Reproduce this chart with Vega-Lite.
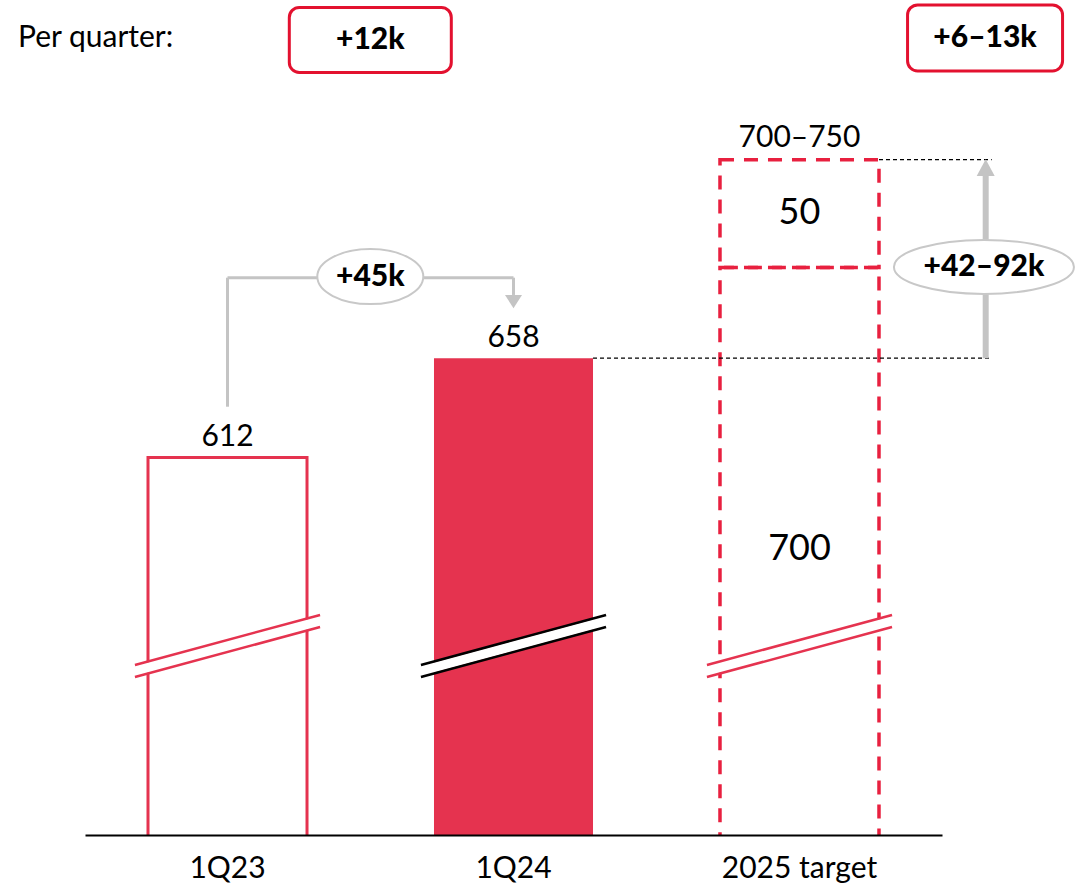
{
  "$schema": "https://vega.github.io/schema/vega-lite/v6.json",
  "width": 857,
  "height": 835,
  "autosize": {"type": "none"},
  "padding": {"left": 85, "right": 133, "top": 0, "bottom": 51},
  "background": "white",
  "config": {"view": {"stroke": null}, "font": "Lato", "text": {"font": "Lato", "color": "#000"}},
  "datasets": {
    "actuals": [{"period": "1Q23", "value": 612}, {"period": "1Q24", "value": 658}],
    "target": [
      {"period": "2025 target", "segment": "base", "from": 0, "to": 700, "label": "700"},
      {"period": "2025 target", "segment": "stretch", "from": 700, "to": 750, "label": "50"}
    ],
    "periods": [{"period": "1Q23"}, {"period": "1Q24"}, {"period": "2025 target"}],
    "refs": [{"from": "1Q24", "value": 658}, {"from": "2025 target", "value": 750}]
  },
  "layer": [
    {
      "data": {"name": "actuals"},
      "mark": {"type": "bar", "clip": true, "stroke": "#e5334f"},
      "encoding": {
        "x": {
          "field": "period", "type": "nominal",
          "scale": {"type": "band", "domain": ["1Q23", "1Q24", "2025 target"], "paddingInner": 0.444, "paddingOuter": 0.2203},
          "axis": {"title": null, "domainColor": "#000", "domainWidth": 2, "ticks": false, "labelFontSize": 30, "labelFont": "Lato", "labelColor": "#000", "labelPadding": 18, "labelAngle": 0, "zindex": 1, "grid": false}
        },
        "y": {"field": "value", "type": "quantitative", "scale": {"domain": [437, 824], "nice": false, "zero": false}, "axis": null},
        "fill": {"condition": {"test": "datum.period === '1Q24'", "value": "#e5334f"}, "value": "white"},
        "strokeWidth": {"condition": {"test": "datum.period === '1Q24'", "value": 0}, "value": 3}
      }
    },
    {
      "data": {"name": "target"},
      "mark": {"type": "bar", "clip": true, "fillOpacity": 0, "stroke": "#e8203f", "strokeWidth": 3.5, "strokeDash": [14, 10]},
      "encoding": {
        "x": {"field": "period", "type": "nominal"},
        "y": {"field": "to", "type": "quantitative"},
        "y2": {"field": "from"}
      }
    },
    {
      "data": {"name": "periods"},
      "mark": {"type": "rule", "color": "white", "strokeWidth": 10, "strokeCap": "butt"},
      "encoding": {
        "x": {"field": "period", "type": "nominal", "bandPosition": -0.082},
        "x2": {"field": "period", "bandPosition": 1.082},
        "y": {"datum": 513.0, "type": "quantitative"},
        "y2": {"datum": 536.2}
      }
    },
    {
      "data": {"name": "periods"},
      "mark": {"type": "rule", "strokeWidth": 2.5},
      "encoding": {
        "x": {"field": "period", "type": "nominal", "bandPosition": -0.082},
        "x2": {"field": "period", "bandPosition": 1.082},
        "y": {"datum": 515.8, "type": "quantitative"},
        "y2": {"datum": 539.0},
        "color": {"condition": {"test": "datum.period === '1Q24'", "value": "#000"}, "value": "#e5334f"}
      }
    },
    {
      "data": {"name": "periods"},
      "mark": {"type": "rule", "strokeWidth": 2.5},
      "encoding": {
        "x": {"field": "period", "type": "nominal", "bandPosition": -0.082},
        "x2": {"field": "period", "bandPosition": 1.082},
        "y": {"datum": 510.2, "type": "quantitative"},
        "y2": {"datum": 533.4},
        "color": {"condition": {"test": "datum.period === '1Q24'", "value": "#000"}, "value": "#e5334f"}
      }
    },
    {
      "data": {"name": "refs"},
      "mark": {"type": "rule", "color": "#000", "strokeWidth": 1.2, "strokeDash": [4, 3]},
      "encoding": {
        "x": {"field": "from", "type": "nominal", "bandPosition": 1},
        "x2": {"datum": "2025 target", "bandPosition": 1.709},
        "y": {"field": "value", "type": "quantitative"}
      }
    },
    {
      "data": {"name": "actuals"},
      "mark": {"type": "text", "fontSize": 30, "baseline": "alphabetic", "dy": -11},
      "encoding": {
        "x": {"field": "period", "type": "nominal"},
        "y": {"field": "value", "type": "quantitative"},
        "text": {"field": "value"}
      }
    },
    {
      "data": {"values": [{"period": "2025 target", "high": 750, "label": "700–750"}]},
      "mark": {"type": "text", "fontSize": 30, "baseline": "alphabetic", "dy": -13},
      "encoding": {
        "x": {"field": "period", "type": "nominal"},
        "y": {"field": "high", "type": "quantitative"},
        "text": {"field": "label"}
      }
    },
    {
      "data": {"name": "target"},
      "transform": [{"filter": "datum.segment === 'stretch'"}],
      "mark": {"type": "text", "fontSize": 36, "baseline": "middle"},
      "encoding": {
        "x": {"field": "period", "type": "nominal"},
        "y": {"datum": 725.5, "type": "quantitative"},
        "text": {"field": "label"}
      }
    },
    {
      "data": {"name": "target"},
      "transform": [{"filter": "datum.segment === 'base'"}],
      "mark": {"type": "text", "fontSize": 36, "baseline": "middle"},
      "encoding": {
        "x": {"field": "period", "type": "nominal"},
        "y": {"datum": 569.5, "type": "quantitative"},
        "text": {"field": "label"}
      }
    },
    {
      "data": {"values": [{"label": "+45k"}]},
      "mark": {"type": "rule", "color": "#c4c4c4", "strokeWidth": 3},
      "encoding": {
        "x": {"datum": "1Q23", "type": "nominal"},
        "y": {"datum": 635.5, "type": "quantitative"},
        "y2": {"datum": 695.3}
      }
    },
    {
      "data": {"values": [{"label": "+45k"}]},
      "mark": {"type": "rule", "color": "#c4c4c4", "strokeWidth": 3},
      "encoding": {
        "x": {"datum": "1Q23", "type": "nominal"},
        "x2": {"datum": "1Q24"},
        "y": {"datum": 695.3, "type": "quantitative"}
      }
    },
    {
      "data": {"values": [{"label": "+45k"}]},
      "mark": {"type": "rule", "color": "#c4c4c4", "strokeWidth": 3},
      "encoding": {
        "x": {"datum": "1Q24", "type": "nominal"},
        "y": {"datum": 695.3, "type": "quantitative"},
        "y2": {"datum": 687.3}
      }
    },
    {
      "data": {"values": [{"label": "+45k"}]},
      "mark": {"type": "point", "filled": true, "color": "#c4c4c4", "opacity": 1, "size": 289, "shape": "M -1 -0.78 L 1 -0.78 L 0 0.78 Z"},
      "encoding": {
        "x": {"datum": "1Q24", "type": "nominal"},
        "y": {"datum": 684.2, "type": "quantitative"}
      }
    },
    {
      "data": {"values": [{"label": "+45k"}]},
      "mark": {"type": "point", "filled": true, "fill": "white", "stroke": "#c8c8c8", "strokeWidth": 2, "opacity": 1, "size": 11236, "shape": "M -1 0 C -1 -0.2866 -0.5523 -0.519 0 -0.519 C 0.5523 -0.519 1 -0.2866 1 0 C 1 0.2866 0.5523 0.519 0 0.519 C -0.5523 0.519 -1 0.2866 -1 0 Z"},
      "encoding": {
        "x": {"datum": "1Q23", "type": "nominal", "bandPosition": 1.398},
        "y": {"datum": 695.8, "type": "quantitative"}
      }
    },
    {
      "data": {"values": [{"label": "+45k"}]},
      "mark": {"type": "text", "fontSize": 30, "fontWeight": 900, "baseline": "middle"},
      "encoding": {
        "x": {"datum": "1Q23", "type": "nominal", "bandPosition": 1.398},
        "y": {"datum": 695.8, "type": "quantitative"},
        "text": {"field": "label"}
      }
    },
    {
      "data": {"values": [{"label": "+42–92k"}]},
      "mark": {"type": "rule", "color": "#c4c4c4", "strokeWidth": 6},
      "encoding": {
        "x": {"datum": "2025 target", "type": "nominal", "bandPosition": 1.671},
        "y": {"datum": 658, "type": "quantitative"},
        "y2": {"datum": 742.4}
      }
    },
    {
      "data": {"values": [{"label": "+42–92k"}]},
      "mark": {"type": "point", "filled": true, "color": "#c4c4c4", "opacity": 1, "size": 324, "shape": "M 0 -0.93 L 1 0.93 L -1 0.93 Z"},
      "encoding": {
        "x": {"datum": "2025 target", "type": "nominal", "bandPosition": 1.671},
        "y": {"datum": 746.3, "type": "quantitative"}
      }
    },
    {
      "data": {"values": [{"label": "+42–92k"}]},
      "mark": {"type": "point", "filled": true, "fill": "white", "stroke": "#c8c8c8", "strokeWidth": 2, "opacity": 1, "size": 32400, "shape": "M -1 0 C -1 -0.1657 -0.5523 -0.3 0 -0.3 C 0.5523 -0.3 1 -0.1657 1 0 C 1 0.1657 0.5523 0.3 0 0.3 C -0.5523 0.3 -1 0.1657 -1 0 Z"},
      "encoding": {
        "x": {"datum": "2025 target", "type": "nominal", "bandPosition": 1.66},
        "y": {"datum": 700.3, "type": "quantitative"}
      }
    },
    {
      "data": {"values": [{"label": "+42–92k"}]},
      "mark": {"type": "text", "fontSize": 30, "fontWeight": 900, "baseline": "middle"},
      "encoding": {
        "x": {"datum": "2025 target", "type": "nominal", "bandPosition": 1.66},
        "y": {"datum": 700.3, "type": "quantitative"},
        "text": {"field": "label"}
      }
    },
    {
      "data": {"values": [{"label": "Per quarter:"}]},
      "mark": {"type": "text", "fontSize": 30, "align": "left", "baseline": "middle"},
      "encoding": {
        "x": {"datum": "1Q23", "type": "nominal", "bandPosition": -0.818},
        "y": {"datum": 806.4, "type": "quantitative"},
        "text": {"field": "label"}
      }
    },
    {
      "data": {"values": [{"label": "+12k"}]},
      "mark": {"type": "point", "filled": true, "fill": "white", "stroke": "#e3112f", "strokeWidth": 3, "opacity": 1, "size": 26244, "shape": "M -0.877 -0.401 L 0.877 -0.401 C 0.945 -0.401 1 -0.346 1 -0.278 L 1 0.278 C 1 0.346 0.945 0.401 0.877 0.401 L -0.877 0.401 C -0.945 0.401 -1 0.346 -1 0.278 L -1 -0.278 C -1 -0.346 -0.945 -0.401 -0.877 -0.401 Z"},
      "encoding": {
        "x": {"datum": "1Q23", "type": "nominal", "bandPosition": 1.398},
        "y": {"datum": 805.5, "type": "quantitative"}
      }
    },
    {
      "data": {"values": [{"label": "+12k"}]},
      "mark": {"type": "text", "fontSize": 30, "fontWeight": 900, "baseline": "middle"},
      "encoding": {
        "x": {"datum": "1Q23", "type": "nominal", "bandPosition": 1.398},
        "y": {"datum": 805.5, "type": "quantitative"},
        "text": {"field": "label"}
      }
    },
    {
      "data": {"values": [{"label": "+6–13k"}]},
      "mark": {"type": "point", "filled": true, "fill": "white", "stroke": "#e3112f", "strokeWidth": 3, "opacity": 1, "size": 24025, "shape": "M -0.87 -0.426 L 0.87 -0.426 C 0.942 -0.426 1 -0.368 1 -0.296 L 1 0.296 C 1 0.368 0.942 0.426 0.87 0.426 L -0.87 0.426 C -0.942 0.426 -1 0.368 -1 0.296 L -1 -0.296 C -1 -0.368 -0.942 -0.426 -0.87 -0.426 Z"},
      "encoding": {
        "x": {"datum": "2025 target", "type": "nominal", "bandPosition": 1.667},
        "y": {"datum": 806.4, "type": "quantitative"}
      }
    },
    {
      "data": {"values": [{"label": "+6–13k"}]},
      "mark": {"type": "text", "fontSize": 30, "fontWeight": 900, "baseline": "middle"},
      "encoding": {
        "x": {"datum": "2025 target", "type": "nominal", "bandPosition": 1.667},
        "y": {"datum": 806.4, "type": "quantitative"},
        "text": {"field": "label"}
      }
    }
  ]
}
